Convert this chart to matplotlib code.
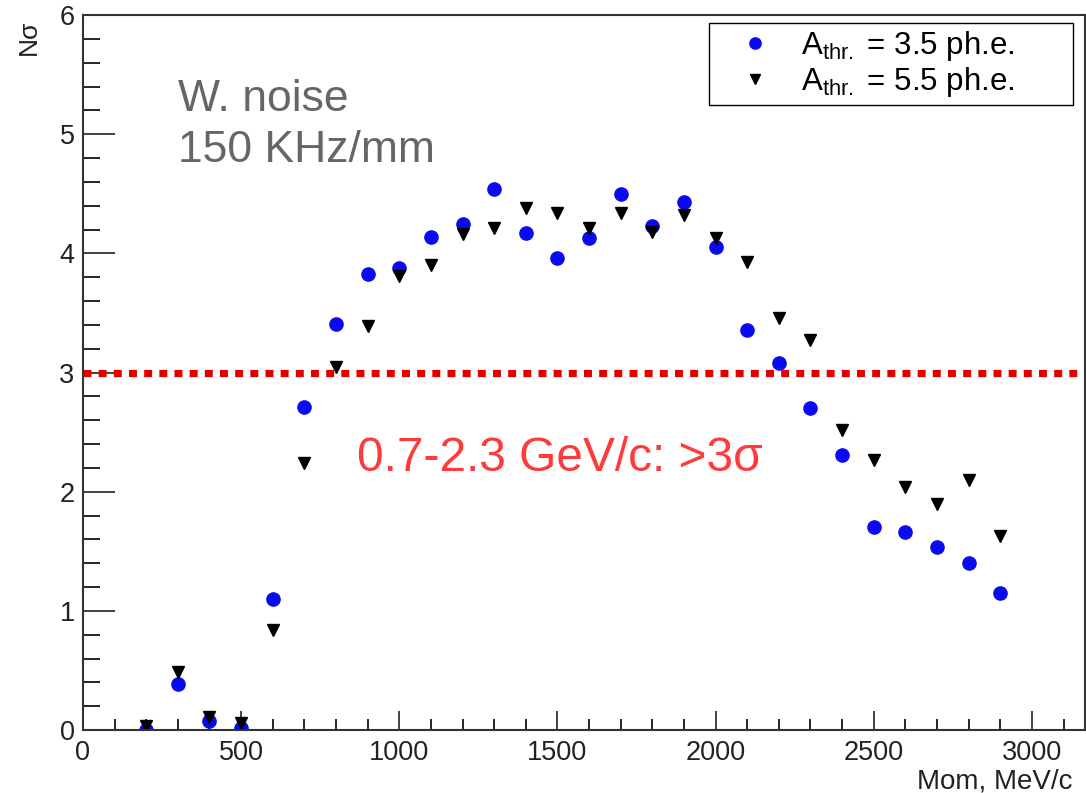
import matplotlib
matplotlib.use("Agg")
import matplotlib.pyplot as plt
from matplotlib.ticker import MultipleLocator

plt.rcParams["font.family"] = ["Liberation Sans", "DejaVu Sans"]
plt.rcParams["mathtext.fontset"] = "custom"
plt.rcParams["mathtext.rm"] = "Liberation Sans"
plt.rcParams["mathtext.it"] = "Liberation Sans"

# momentum (MeV/c) and separation in sigma
mom = [200, 300, 400, 500, 600, 700, 800, 900, 1000, 1100, 1200, 1300, 1400, 1500,
       1600, 1700, 1800, 1900, 2000, 2100, 2200, 2300, 2400, 2500, 2600, 2700, 2800, 2900]
nsig_35 = [0.00, 0.39, 0.08, 0.02, 1.10, 2.71, 3.41, 3.83, 3.88, 4.14, 4.25, 4.54, 4.17, 3.96,
           4.13, 4.50, 4.23, 4.43, 4.05, 3.36, 3.08, 2.70, 2.31, 1.70, 1.66, 1.54, 1.40, 1.15]
nsig_55 = [0.03, 0.49, 0.11, 0.06, 0.84, 2.24, 3.05, 3.39, 3.81, 3.90, 4.16, 4.21, 4.38, 4.34,
           4.21, 4.34, 4.18, 4.32, 4.13, 3.93, 3.46, 3.27, 2.52, 2.27, 2.04, 1.90, 2.10, 1.63]
labels = [r"A$_{\mathregular{thr.}}$ = 3.5 ph.e.", r"A$_{\mathregular{thr.}}$ = 5.5 ph.e."]
threshold = 3

fig = plt.figure(figsize=(10.86, 7.93), dpi=100)
ax = fig.add_axes([0.0764, 0.0794, 0.9227, 0.9016])

ax.plot(mom, nsig_35, "o", color="#0a0af0", markersize=9.5, label=labels[0], linestyle="none")
ax.plot(mom, nsig_55, "v", color="black", markersize=8.5, label=labels[1], linestyle="none")

ax.axhline(threshold, color="#e00000", linewidth=5.2, linestyle=(0, (1.1, 1.0)))

ax.set_xlim(0, 3168)
ax.set_ylim(0, 6)
ax.xaxis.set_major_locator(MultipleLocator(500))
ax.xaxis.set_minor_locator(MultipleLocator(100))
ax.yaxis.set_major_locator(MultipleLocator(1))
ax.yaxis.set_minor_locator(MultipleLocator(0.2))

ax.tick_params(axis="y", which="major", direction="in", length=23, width=1.2, labelsize=19.5, pad=6, colors="#222222")
ax.tick_params(axis="y", which="minor", direction="in", length=12, width=1.2)
ax.tick_params(axis="x", which="major", direction="in", length=14, width=1.2, labelsize=19.5, pad=7, colors="#222222")
ax.tick_params(axis="x", which="minor", direction="in", length=8, width=1.2)
for s in ax.spines.values():
    s.set_color("#333333")
    s.set_linewidth(1.5)

leg = ax.legend(loc="upper left", bbox_to_anchor=(0.625, 0.873, 0.363, 0.116), mode="expand",
                fontsize=22.5, frameon=True, fancybox=False, edgecolor="black", framealpha=1,
                borderpad=0.2, handletextpad=0.25, labelspacing=0.05, borderaxespad=0,
                handlelength=2.5, markerscale=0.85)
leg.get_frame().set_linewidth(1.0)

ax.text(0.095, 0.91, "W. noise\n150 KHz/mm", transform=ax.transAxes, fontsize=32,
        color="#666666", va="top", ha="left", linespacing=1.3)
ax.text(0.273, 0.38, "0.7-2.3 GeV/c: >3\u03c3", transform=ax.transAxes, fontsize=34.5,
        color="#ff3a3a", va="center", ha="left")

fig.text(0.988, 0.0063, "Mom, MeV/c", ha="right", va="baseline", fontsize=20, color="#222222")
fig.text(0.027, 0.975, "N\u03c3", ha="center", va="top", rotation=90, fontsize=19, color="#222222")

fig.savefig("out.png", dpi=100)
